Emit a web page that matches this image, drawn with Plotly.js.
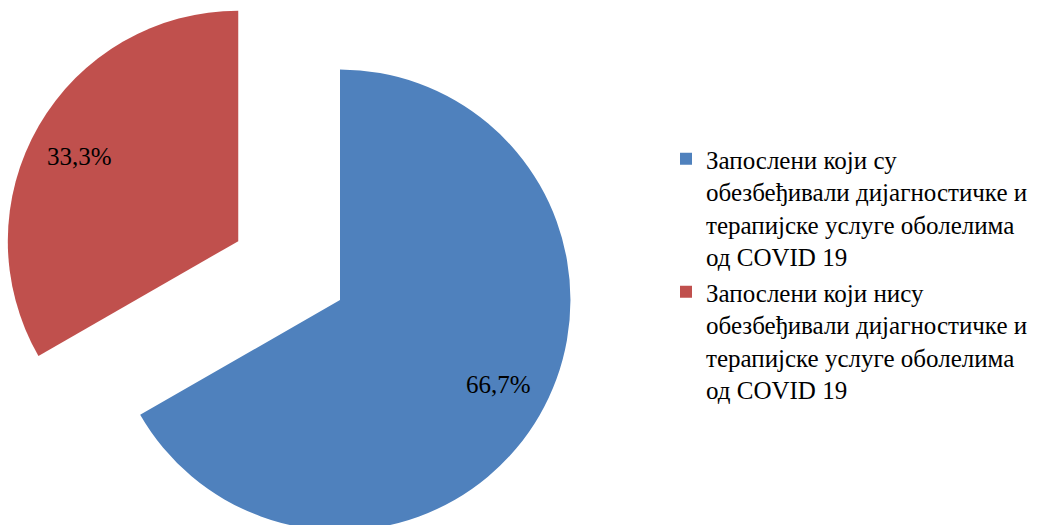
<!DOCTYPE html>
<html>
<head>
<meta charset="utf-8">
<script src="https://cdn.plot.ly/plotly-3.0.1.min.js"></script>
<style>
html, body { margin: 0; padding: 0; overflow: hidden; background: #fff; width: 1054px; height: 525px; }
#chart { position: absolute; left: -8px; top: -48px; width: 1062px; height: 696px; }
</style>
</head>
<body>
<div id="chart"></div>
<script>
const categories = [
  'Запослени који су<br>обезбеђивали дијагностичке и<br>терапијске услуге оболелима<br>од COVID 19',
  'Запослени који нису<br>обезбеђивали дијагностичке и<br>терапијске услуге оболелима<br>од COVID 19'
];
const shares = [66.7, 33.3];
const sliceLabels = ['66,7%', '33,3%'];
const sliceColors = ['#4F81BD', '#C0504D'];
const pulls = [0, 0.51];

const W = 1062, H = 696;
const dom = { x: [0, 696 / W], y: [0, 1] };
const SERIF = 'Liberation Serif, Times New Roman, serif';
const labelRadius = 0.78;
const labelAngleOffset = -2 * Math.PI / 180;

// label positions derived from the slice angles (clockwise from 12 o'clock)
const total = shares.reduce((a, b) => a + b, 0);
const cx = W * (dom.x[0] + dom.x[1]) / 2;
const cy = H * (1 - (dom.y[0] + dom.y[1]) / 2);
const maxPull = Math.max(...pulls);
const r = Math.min(W * (dom.x[1] - dom.x[0]), H * (dom.y[1] - dom.y[0])) / (2 + 2 * maxPull);
let cum = 0;
const annotations = shares.map((v, i) => {
  const mid = (cum + v / 2) / total * 2 * Math.PI;
  cum += v;
  const ox = cx + Math.sin(mid) * pulls[i] * r;
  const oy = cy - Math.cos(mid) * pulls[i] * r;
  const a = mid + labelAngleOffset;
  const px = ox + Math.sin(a) * labelRadius * r;
  const py = oy - Math.cos(a) * labelRadius * r;
  return {
    xref: 'paper', yref: 'paper',
    x: px / W, y: 1 - py / H,
    xanchor: 'center', yanchor: 'middle',
    text: sliceLabels[i], showarrow: false,
    font: { family: SERIF, size: 25, color: '#000' }
  };
});

const trace = {
  type: 'pie',
  labels: categories,
  values: shares,
  sort: false,
  direction: 'clockwise',
  rotation: 0,
  pull: pulls,
  marker: { colors: sliceColors, line: { width: 0 } },
  textinfo: 'none',
  hoverinfo: 'skip',
  domain: dom
};

const layout = {
  width: W,
  height: H,
  margin: { l: 0, r: 0, t: 0, b: 0 },
  paper_bgcolor: '#fff',
  separators: ',.',
  showlegend: true,
  annotations: annotations,
  legend: {
    x: 674 / W,
    xanchor: 'left',
    y: 1 - 184 / H,
    yanchor: 'top',
    valign: 'top',
    font: { family: SERIF, size: 25, color: '#000' },
    bgcolor: 'rgba(0,0,0,0)'
  }
};

Plotly.newPlot('chart', [trace], layout, { displayModeBar: false, staticPlot: true });
</script>
</body>
</html>
